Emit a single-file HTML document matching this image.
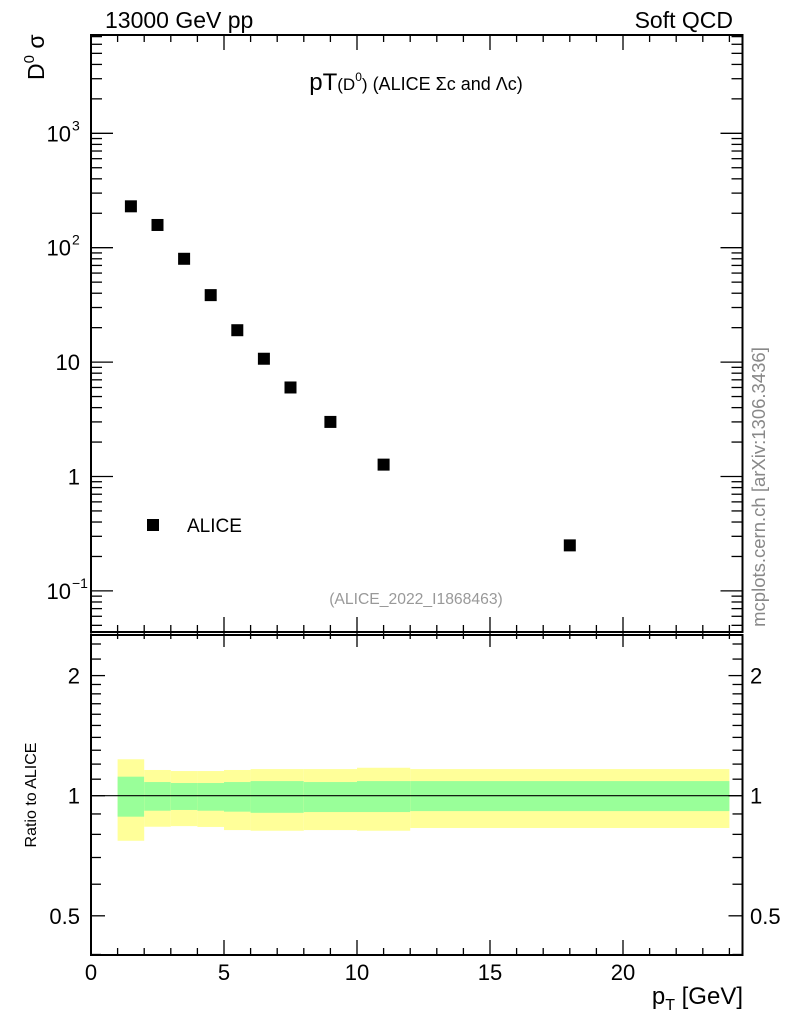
<!DOCTYPE html>
<html><head><meta charset="utf-8">
<style>
html,body{margin:0;padding:0;background:#fff;}
svg{display:block;font-family:"Liberation Sans",sans-serif;}
</style></head>
<body>
<svg id="c" width="786" height="1024" viewBox="0 0 786 1024">
<g id="bands"></g>
<g id="ticks"></g>
<g id="pts"></g>
<rect x="91" y="35" width="651.5" height="597" fill="none" stroke="#000" stroke-width="2"/>
<rect x="91" y="635" width="651.5" height="320" fill="none" stroke="#000" stroke-width="2"/>
<line x1="91" x2="742.5" y1="795.7" y2="795.7" stroke="#000" stroke-width="1.2"/>
<text x="105" y="28" font-size="23">13000 GeV pp</text>
<text x="733" y="28" font-size="23" text-anchor="end">Soft QCD</text>
<text x="416" y="90" font-size="24" text-anchor="middle">pT<tspan font-size="17">(D</tspan><tspan font-size="12" dy="-9">0</tspan><tspan font-size="17" dy="9">)</tspan><tspan font-size="18"> (ALICE Σc and Λc)</tspan></text>
<text transform="translate(44,80) rotate(-90)" font-size="23">D<tspan font-size="15" dy="-10">0</tspan><tspan dy="10"> σ</tspan></text>
<text transform="translate(36,795) rotate(-90)" font-size="16" text-anchor="middle">Ratio to ALICE</text>
<text transform="translate(765,487) rotate(-90)" font-size="18.5" fill="#888" text-anchor="middle">mcplots.cern.ch [arXiv:1306.3436]</text>
<text x="416" y="604" font-size="15.7" fill="#999" text-anchor="middle">(ALICE_2022_I1868463)</text>
<rect x="147" y="519" width="12" height="12" fill="#000"/>
<text x="187" y="532" font-size="19">ALICE</text>
<text x="743" y="1004" font-size="24" text-anchor="end">p<tspan font-size="16" dy="6">T</tspan><tspan dy="-6"> [GeV]</tspan></text>
<g id="labels"></g>
</svg>
<script>
const xVals=[1.5,2.5,3.5,4.5,5.5,6.5,7.5,9,11,18];
const yVals=[230,158,80,38.5,19,10.7,6,3,1.27,0.25];
const binEdges=[1,2,3,4,5,6,8,10,12,24];
const yellowHi=[1.234,1.16,1.153,1.153,1.16,1.166,1.166,1.175,1.166];
const greenHi=[1.116,1.082,1.076,1.076,1.082,1.088,1.082,1.088,1.088];
const greenLo=[0.886,0.917,0.921,0.917,0.912,0.906,0.91,0.91,0.915];
const yellowLo=[0.771,0.836,0.839,0.835,0.82,0.817,0.82,0.817,0.83];
const xTickLabels=["0","5","10","15","20"];

const NS="http://www.w3.org/2000/svg";
const X=v=>91+v*26.6;
const Y=v=>476.5-Math.log10(v)*114.4;
const R=v=>795.7-Math.log10(v)*399;
function mk(tag,attrs,parent){const e=document.createElementNS(NS,tag);for(const k in attrs)e.setAttribute(k,attrs[k]);document.getElementById(parent).appendChild(e);return e;}

for(let i=0;i<binEdges.length-1;i++){
  const x0=X(binEdges[i]),x1=X(binEdges[i+1]);
  const a=mk('rect',{x:x0,width:x1-x0,y:R(yellowHi[i]),height:R(yellowLo[i])-R(yellowHi[i]),fill:'#ffff99'},'bands');
  
  
  const b=mk('rect',{x:x0,width:x1-x0,y:R(greenHi[i]),height:R(greenLo[i])-R(greenHi[i]),fill:'#99ff99'},'bands');
  
  
}
for(let i=0;i<xVals.length;i++){
  const p=mk('rect',{x:X(xVals[i])-6,y:Y(yVals[i])-6,width:12,height:12,fill:'#000'},'pts');
  
  
}
for(let v=0;v<=24;v++){
  const maj=v%5===0, L=maj?15:7;
  [[35,35+L],[632,632-L],[632,632+L],[955,955-L]].forEach(([a,b])=>{
    mk('line',{x1:X(v),x2:X(v),y1:a,y2:b,stroke:'#000','stroke-width':1.3},'ticks');
  });
  if(maj){
    const t=mk('text',{x:X(v),y:980,'font-size':22,'text-anchor':'middle'},'labels');
    t.textContent=xTickLabels[v/5];
    
    
  }
}
for(let d=-2;d<=3;d++){for(let m=1;m<=9;m++){
  const v=m*Math.pow(10,d),y=Y(v);
  if(y<35||y>632)continue;
  const L=m===1?22:11;
  mk('line',{x1:91,x2:91+L,y1:y,y2:y,stroke:'#000','stroke-width':1.3},'ticks');
  mk('line',{x1:742.5,x2:742.5-L,y1:y,y2:y,stroke:'#000','stroke-width':1.3},'ticks');
}}
const yl=[[0.1,'10','−1'],[1,'1',''],[10,'10',''],[100,'10','2'],[1000,'10','3']];
yl.forEach(([v,b,e])=>{
  const t=mk('text',{x:e?71:80,y:Y(v)+8,'font-size':22,'text-anchor':'end'},'labels');
  t.textContent=b;
  
  
  if(e){const s=mk('text',{x:72,y:Y(v)-3,'font-size':14},'labels');s.textContent=e;
  
  }
});
[0.4,0.5,0.6,0.7,0.8,0.9,1,1.1,1.2,1.3,1.4,1.5,1.6,1.7,1.8,1.9,2,2.2,2.4].forEach(v=>{
  const y=R(v);if(y<635||y>955)return;
  const L=(v===0.5||v===1||v===2)?14:10;
  mk('line',{x1:91,x2:91+L,y1:y,y2:y,stroke:'#000','stroke-width':1.3},'ticks');
  mk('line',{x1:742.5,x2:742.5-L,y1:y,y2:y,stroke:'#000','stroke-width':1.3},'ticks');
});
[[2,'2'],[1,'1'],[0.5,'0.5']].forEach(([v,s])=>{
  const a=mk('text',{x:80,y:R(v)+8,'font-size':22,'text-anchor':'end'},'labels');a.textContent=s;
  
  
  const b=mk('text',{x:750,y:R(v)+8,'font-size':22},'labels');b.textContent=s;
  
  
});
</script>
</body></html>
